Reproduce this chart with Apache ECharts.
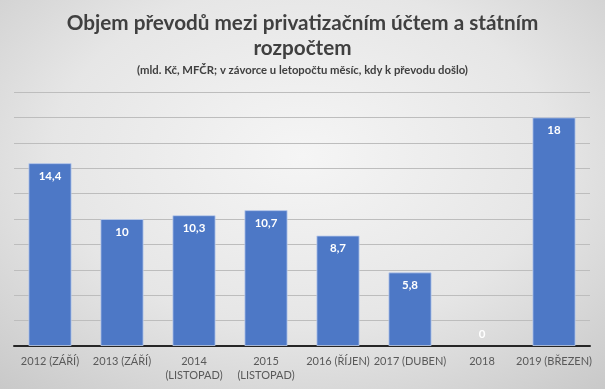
<!DOCTYPE html>
<html><head><meta charset="utf-8">
<script src="https://cdn.jsdelivr.net/npm/echarts@6/dist/echarts.min.js"></script>
<style>
html,body{margin:0;padding:0;}
#c{width:605px;height:389px;background:radial-gradient(ellipse 75% 80% at 50% 40%, #f5f5f5 0%, #e6e6e6 55%, #c9c9c9 100%);}
</style></head>
<body><div id="c"></div>
<script>
const categories = ['2012 (ZÁŘÍ)', '2013 (ZÁŘÍ)', '2014\n(LISTOPAD)', '2015\n(LISTOPAD)', '2016 (ŘÍJEN)', '2017 (DUBEN)', '2018', '2019 (BŘEZEN)'];
const values = [14.4, 10, 10.3, 10.7, 8.7, 5.8, 0, 18];
const titleText = 'Objem převodů mezi privatizačním účtem a státním\nrozpočtem';
const subtitleText = '(mld. Kč, MFČR; v závorce u letopočtu měsíc, kdy k převodu došlo)';

const chart = echarts.init(document.getElementById('c'), null, {renderer:'canvas'});
const fontFam = 'Lato, "Open Sans", sans-serif';
chart.setOption({
  animation:false,
  backgroundColor:'transparent',
  title:[
    {text:titleText, left:'center', top:6,
     textStyle:{fontFamily:fontFam, fontWeight:'bold', fontSize:20.7, color:'#404040', lineHeight:25, align:'center'}},
    {text:subtitleText, left:'center', top:60,
     textStyle:{fontFamily:fontFam, fontWeight:'bold', fontSize:11.3, color:'#404040'}}
  ],
  grid:{left:14, right:15, top:92, bottom:43, containLabel:false},
  xAxis:{type:'category', data:categories,
    axisLine:{lineStyle:{color:'#262626', width:2}},
    axisTick:{show:false},
    axisLabel:{interval:0, color:'#595959', fontFamily:fontFam, fontSize:11, margin:8, lineHeight:14}},
  yAxis:{type:'value', min:0, max:20, interval:2,
    axisLabel:{show:false}, axisLine:{show:false}, axisTick:{show:false},
    splitLine:{lineStyle:{color:'#bdbdbd', width:1}}},
  series:[{type:'bar', barCategoryGap:'40%',
    data:values.map(v => v === 0 ? {value:v, itemStyle:{borderWidth:0}, label:{position:'top', distance:6}} : v),
    itemStyle:{color:'#4d78c6', borderColor:'rgba(190,205,235,0.8)', borderWidth:1},
    label:{show:true, position:'insideTop', distance:7, color:'#ffffff', fontFamily:fontFam,
      fontWeight:'bold', fontSize:11.5,
      formatter:p => String(p.value).replace('.', ',')}
  }]
});
</script></body></html>
